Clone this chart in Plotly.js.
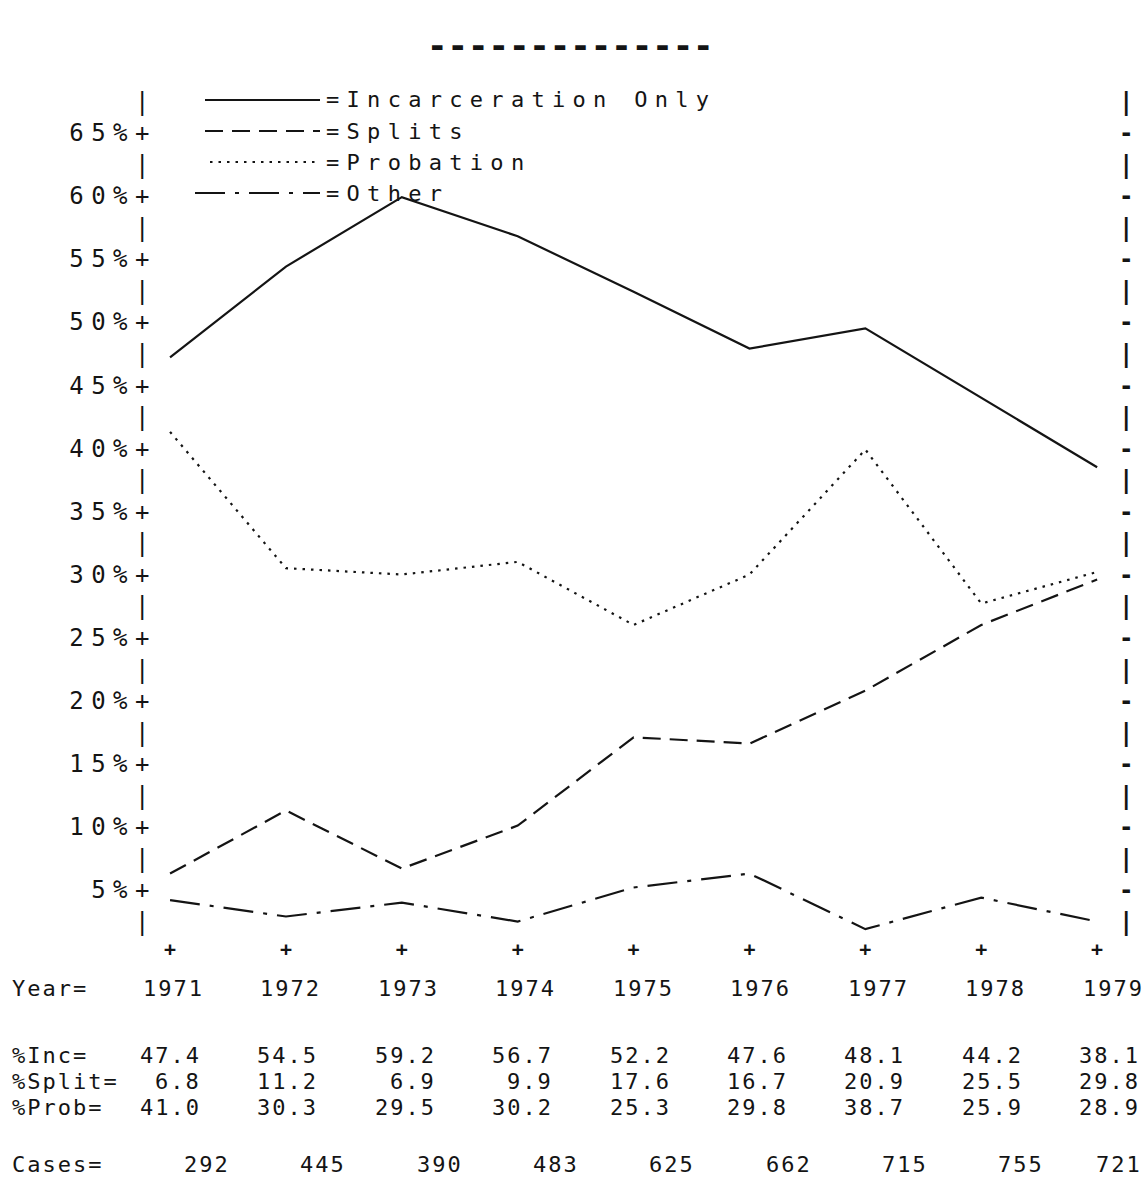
<!DOCTYPE html>
<html>
<head>
<meta charset="utf-8">
<script src="https://cdn.plot.ly/plotly-3.0.1.min.js"></script>
<style>
  html, body { margin: 0; padding: 0; background: #fff; }
  #chart { width: 1146px; height: 1191px; }
  .ytick text, .y2tick text { letter-spacing: 7.5px; }
</style>
</head>
<body>
<div id="chart"></div>
<script>
// ---- data ----
const years = [1971, 1972, 1973, 1974, 1975, 1976, 1977, 1978, 1979];
const incPlot   = [47.2, 54.4, 59.9, 56.8, 52.4, 47.9, 49.5, 44.0, 38.5];
const splitPlot = [6.3, 11.3, 6.7, 10.1, 17.1, 16.6, 20.8, 26.0, 29.6];
const probPlot  = [41.3, 30.5, 30.0, 31.0, 26.0, 30.0, 39.9, 27.7, 30.2];
const otherPlot = [4.2, 2.9, 4.0, 2.5, 5.2, 6.3, 1.9, 4.4, 2.5];

const yearLabels = ['1971', '1972', '1973', '1974', '1975', '1976', '1977', '1978', '1979'];
const incTable   = ['47.4', '54.5', '59.2', '56.7', '52.2', '47.6', '48.1', '44.2', '38.1'];
const splitTable = ['6.8', '11.2', '6.9', '9.9', '17.6', '16.7', '20.9', '25.5', '29.8'];
const probTable  = ['41.0', '30.3', '29.5', '30.2', '25.3', '29.8', '38.7', '25.9', '28.9'];
const casesTable = ['292', '445', '390', '483', '625', '662', '715', '755', '721'];

const rowLabels = ['Year=', '%Inc=', '%Split=', '%Prob=', 'Cases='];
const seriesNames = ['=Incarceration Only', '=Splits', '=Probation', '=Other'];
const titleText = '--------------';

const yTickVals = [2.5, 5, 7.5, 10, 12.5, 15, 17.5, 20, 22.5, 25, 27.5, 30, 32.5, 35,
                   37.5, 40, 42.5, 45, 47.5, 50, 52.5, 55, 57.5, 60, 62.5, 65, 67.5];
const leftTickText = ['|', '5%+', '|', '10%+', '|', '15%+', '|', '20%+', '|', '25%+', '|', '30%+', '|', '35%+',
                      '|', '40%+', '|', '45%+', '|', '50%+', '|', '55%+', '|', '60%+', '|', '65%+', '|'];
const rightTickText = ['|', '-', '|', '-', '|', '-', '|', '-', '|', '-', '|', '-', '|', '-',
                       '|', '-', '|', '-', '|', '-', '|', '-', '|', '-', '|', '-', '|'];
const xTickText = ['+', '+', '+', '+', '+', '+', '+', '+', '+'];

// ---- styles / geometry ----
const W = 1146, H = 1191;
const M = { l: 158, r: 28, t: 90, b: 256 };
const plotW = W - M.l - M.r, plotH = H - M.t - M.b;
const px = xp => (xp - M.l) / plotW;          // pixel -> paper x
const py = yp => (H - M.b - yp) / plotH;       // pixel -> paper y
const INK = '#141414';
const MONO = 'DejaVu Sans Mono, Liberation Mono, monospace';
const dashes = ['solid', '18px,9px', '2.5px,6px', '30px,10px,4px,10px'];
const seriesData = [incPlot, splitPlot, probPlot, otherPlot];

const traces = seriesData.map((vals, i) => ({
  x: years, y: vals, type: 'scatter', mode: 'lines', name: seriesNames[i],
  yaxis: i === 3 ? 'y2' : 'y',
  line: { color: INK, width: 2.2, dash: dashes[i] },
  hoverinfo: 'skip'
}));

const yRange = [1.434, 68.39];
const xRange = [1970.896, 1979.18];

const shapes = [];
const annotations = [];
const extra = [];   // per-annotation letter spacing + anchored edge

function addAnn(a, ls, edge) {
  annotations.push(a);
  extra.push({ ls: ls || 0, edge: edge || 'center' });
}

// title dashes
addAnn({
  xref: 'paper', yref: 'paper', x: px(570), y: py(45), text: titleText,
  showarrow: false, xanchor: 'center', yanchor: 'middle',
  font: { family: MONO, size: 34, color: INK, weight: 'bold' }
});

// legend (samples + labels)
const legRowY = [100, 131, 162, 193];
const legX0 = [205, 205, 210, 195];
seriesNames.forEach((nm, i) => {
  shapes.push({
    type: 'line', xref: 'paper', yref: 'paper',
    x0: px(legX0[i]), x1: px(320), y0: py(legRowY[i]), y1: py(legRowY[i]),
    line: { color: INK, width: 2.2, dash: dashes[i] }
  });
  addAnn({
    xref: 'paper', yref: 'paper', x: px(324), y: py(legRowY[i]), text: nm,
    showarrow: false, xanchor: 'left', yanchor: 'middle',
    font: { family: MONO, size: 22, color: INK }
  }, 7.3, 'left');
});

// data table under the plot (typewriter column grid)
const TFONT = { family: MONO, size: 22, color: INK };
const TLS = 2;
const rows = [
  { y: 989,  vals: yearLabels, anchor: 'center', x0: 172, step: 117.5 },
  { y: 1055, vals: incTable,   anchor: 'right',  x0: 201, step: 117.4 },
  { y: 1081, vals: splitTable, anchor: 'right',  x0: 201, step: 117.4 },
  { y: 1107, vals: probTable,  anchor: 'right',  x0: 201, step: 117.4 },
  { y: 1164, vals: casesTable, anchor: 'right',  x0: 230, step: 116.3 }
];
rows.forEach((row, r) => {
  addAnn({
    xref: 'paper', yref: 'paper', x: px(10), y: py(row.y), text: rowLabels[r],
    showarrow: false, xanchor: 'left', yanchor: 'middle', font: TFONT
  }, TLS, 'left');
  row.vals.forEach((v, i) => {
    const xp = Math.min(row.x0 + i * row.step, row.anchor === 'right' ? 1142 : 1120);
    addAnn({
      xref: 'paper', yref: 'paper', x: px(xp), y: py(row.y), text: v,
      showarrow: false, xanchor: row.anchor, yanchor: 'middle', font: TFONT
    }, TLS, row.anchor);
  });
});

const layout = {
  width: W, height: H,
  margin: M,
  paper_bgcolor: '#ffffff', plot_bgcolor: '#ffffff',
  showlegend: false,
  font: { family: MONO, color: INK },
  xaxis: {
    range: xRange, tickmode: 'array', tickvals: years, ticktext: xTickText,
    showgrid: false, zeroline: false, showline: false, ticks: '',
    tickfont: { family: MONO, size: 20, color: INK, weight: 'bold' }, fixedrange: true
  },
  yaxis: {
    range: yRange, tickmode: 'array', tickvals: yTickVals, ticktext: leftTickText,
    showgrid: false, zeroline: false, showline: false, ticks: '',
    tickfont: { family: MONO, size: 24, color: INK }, fixedrange: true
  },
  yaxis2: {
    range: yRange, overlaying: 'y', side: 'right', anchor: 'x',
    tickmode: 'array', tickvals: yTickVals, ticktext: rightTickText,
    showgrid: false, zeroline: false, showline: false, ticks: '',
    tickfont: { family: MONO, size: 24, color: INK, weight: 'bold' }, fixedrange: true
  },
  shapes: shapes,
  annotations: annotations
};

Plotly.newPlot('chart', traces, layout, { staticPlot: true, displayModeBar: false }).then(() => {
  document.querySelectorAll('g.annotation').forEach(g => {
    const idx = +g.getAttribute('data-index');
    const ex = extra[idx];
    if (!ex || !ex.ls) return;
    g.querySelectorAll('text').forEach(t => {
      const b0 = t.getBBox();
      t.style.letterSpacing = ex.ls + 'px';
      const b1 = t.getBBox();
      let dx = 0;
      if (ex.edge === 'left') dx = b0.x - b1.x;
      else if (ex.edge === 'right') dx = (b0.x + b0.width) - (b1.x + b1.width - ex.ls);
      else dx = (b0.x + b0.width / 2) - (b1.x + (b1.width - ex.ls) / 2);
      const prev = t.getAttribute('transform') || '';
      t.setAttribute('transform', ('translate(' + dx.toFixed(2) + ',0) ' + prev).trim());
    });
  });
});
</script>
</body>
</html>
